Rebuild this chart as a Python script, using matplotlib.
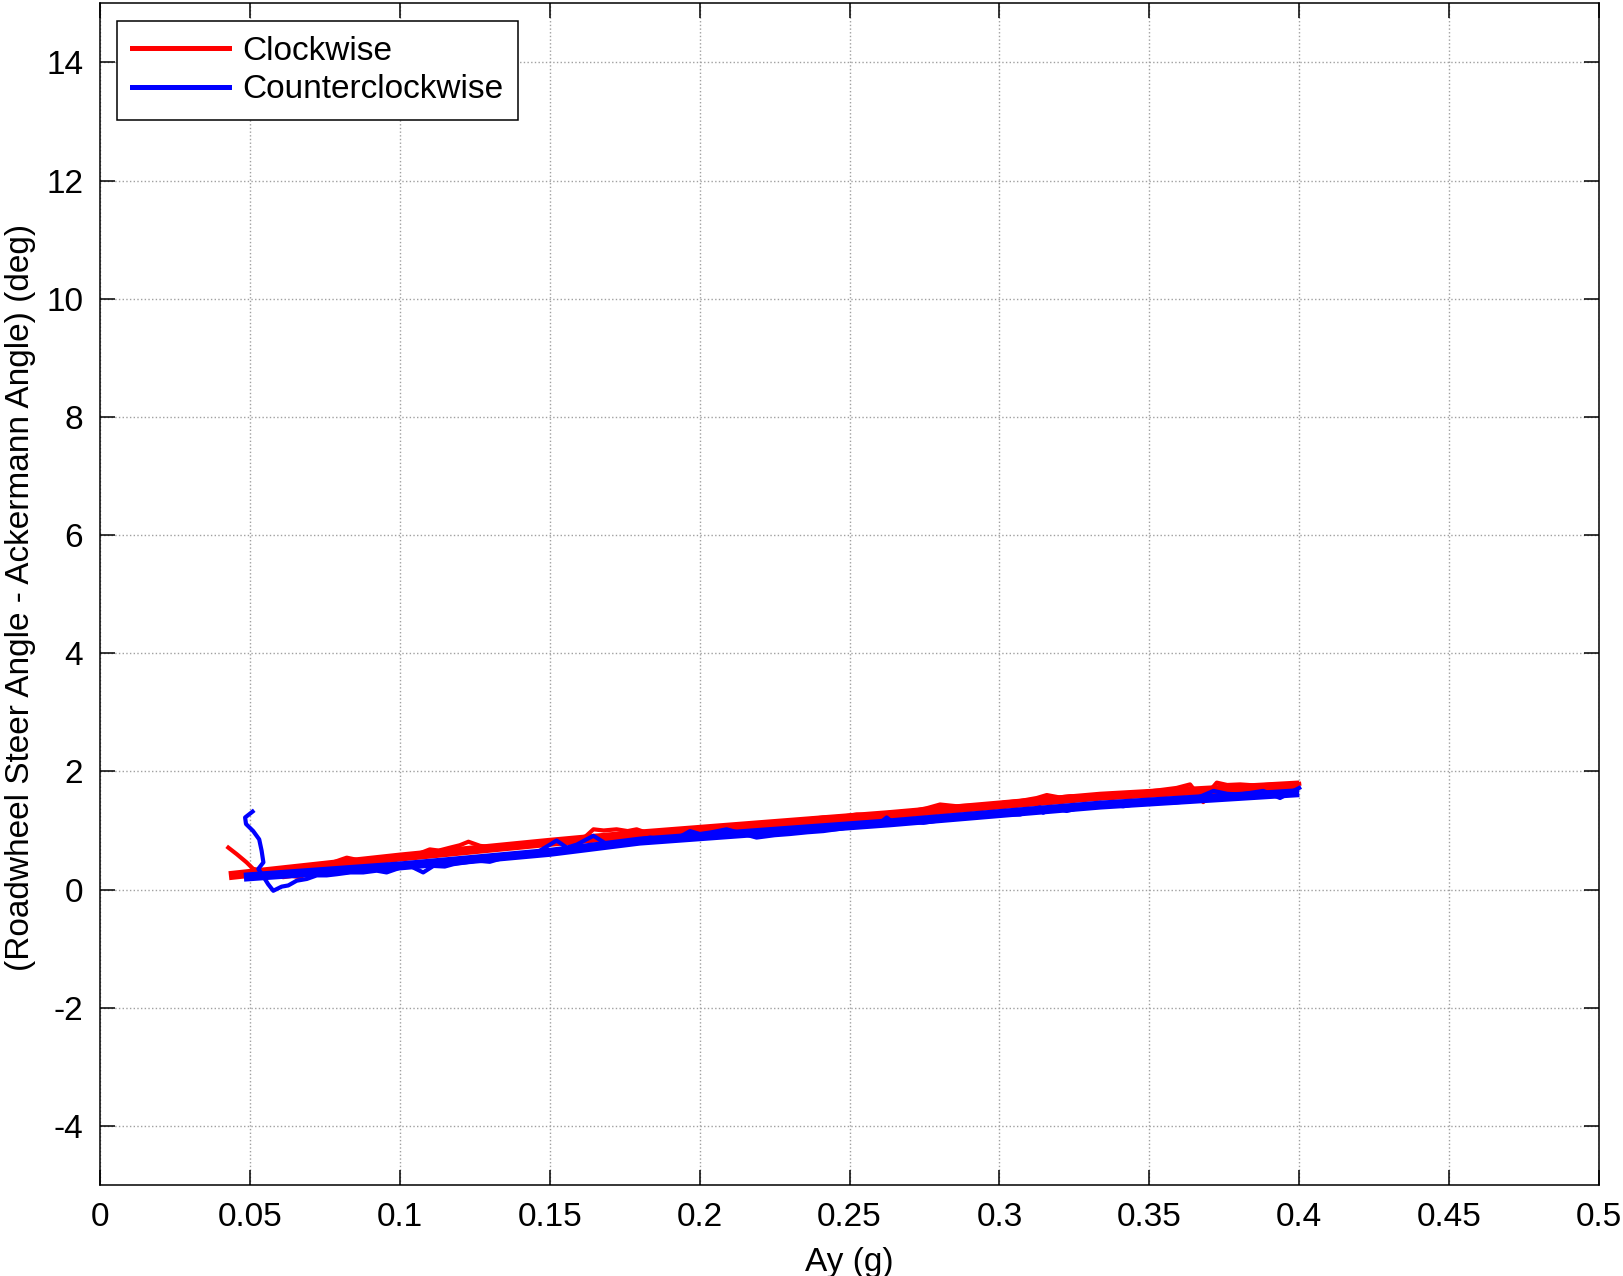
import numpy as np
import matplotlib
matplotlib.use("Agg")
import matplotlib.pyplot as plt
from matplotlib.lines import Line2D

plt.rcParams['font.family'] = ['Liberation Sans', 'DejaVu Sans']
plt.rcParams['axes.unicode_minus'] = False

# thick trend band
cw_band_x = [0.043, 0.100, 0.150, 0.180, 0.2635, 0.3336, 0.400]
cw_band_y = [0.235, 0.55, 0.80, 0.94, 1.27, 1.58, 1.77]
ccw_band_x = [0.048, 0.100, 0.150, 0.180, 0.2635, 0.3336, 0.400]
ccw_band_y = [0.21, 0.40, 0.63, 0.82, 1.13, 1.43, 1.64]

# noisy measured runs
cw_run_x = [0.0428, 0.0456, 0.0489, 0.0511, 0.0545, 0.0575, 0.0611, 0.0640, 0.0667,
            0.0700, 0.0740, 0.0778, 0.0800, 0.0823, 0.0860, 0.0900, 0.0930, 0.0967,
            0.1000, 0.1034, 0.1070, 0.1100, 0.1130, 0.1168, 0.1200, 0.1229, 0.1268,
            0.1300, 0.1334, 0.1370, 0.1400, 0.1446, 0.1480, 0.1512, 0.1550, 0.1590,
            0.1620, 0.1646, 0.1680, 0.1723, 0.1760, 0.1790, 0.1835, 0.1870, 0.1900,
            0.1968, 0.2030, 0.2090, 0.2130, 0.2170, 0.2246, 0.2290, 0.2330, 0.2413,
            0.2470, 0.2524, 0.2580, 0.2635, 0.2713, 0.2760, 0.2802, 0.2858, 0.2900,
            0.2936, 0.2980, 0.3013, 0.3070, 0.3125, 0.3158, 0.3200, 0.3236, 0.3290,
            0.3336, 0.3400, 0.3469, 0.3530, 0.3591, 0.3636, 0.3660, 0.3680, 0.3700,
            0.3725, 0.3760, 0.3803, 0.3860, 0.3914, 0.3960, 0.4000]
cw_run_y = [0.71, 0.60, 0.46, 0.35, 0.32, 0.25, 0.21, 0.23, 0.21,
            0.30, 0.40, 0.46, 0.50, 0.54, 0.50, 0.52, 0.50, 0.54,
            0.53, 0.57, 0.62, 0.68, 0.66, 0.71, 0.75, 0.81, 0.74,
            0.72, 0.71, 0.75, 0.74, 0.77, 0.80, 0.82, 0.80, 0.85,
            0.90, 1.02, 1.00, 1.02, 0.99, 1.02, 0.94, 0.96, 0.97,
            1.02, 1.04, 1.08, 1.06, 1.09, 1.13, 1.12, 1.17, 1.22,
            1.23, 1.27, 1.26, 1.30, 1.33, 1.38, 1.44, 1.41, 1.42,
            1.39, 1.43, 1.47, 1.50, 1.55, 1.60, 1.56, 1.58, 1.57,
            1.61, 1.60, 1.64, 1.68, 1.72, 1.78, 1.62, 1.48, 1.66,
            1.81, 1.77, 1.78, 1.76, 1.78, 1.76, 1.79]
ccw_run_x = [0.0509, 0.0484, 0.0487, 0.0511, 0.0531, 0.0539, 0.0545, 0.0528, 0.0545,
             0.0561, 0.0578, 0.0590, 0.0606, 0.0628, 0.0656, 0.0690, 0.0723, 0.0756,
             0.0790, 0.0834, 0.0878, 0.0923, 0.0956, 0.0990, 0.1023, 0.1050, 0.1078,
             0.1112, 0.1150, 0.1179, 0.1220, 0.1257, 0.1300, 0.1334, 0.1370, 0.1401,
             0.1440, 0.1468, 0.1523, 0.1557, 0.1590, 0.1623, 0.1646, 0.1690, 0.1740,
             0.1779, 0.1835, 0.1870, 0.1913, 0.1968, 0.2001, 0.2040, 0.2090, 0.2140,
             0.2190, 0.2250, 0.2301, 0.2360, 0.2413, 0.2470, 0.2524, 0.2600, 0.2624,
             0.2646, 0.2700, 0.2746, 0.2810, 0.2880, 0.2940, 0.3002, 0.3069, 0.3135,
             0.3146, 0.3180, 0.3224, 0.3280, 0.3336, 0.3413, 0.3470, 0.3525, 0.3580,
             0.3636, 0.3714, 0.3760, 0.3803, 0.3880, 0.3936, 0.4000]
ccw_run_y = [1.32, 1.22, 1.11, 0.99, 0.85, 0.66, 0.46, 0.35, 0.22,
             0.09, -0.02, 0.01, 0.05, 0.07, 0.15, 0.18, 0.24, 0.24,
             0.26, 0.29, 0.29, 0.32, 0.29, 0.35, 0.43, 0.36, 0.29,
             0.40, 0.39, 0.43, 0.46, 0.49, 0.47, 0.52, 0.55, 0.56,
             0.60, 0.66, 0.83, 0.71, 0.76, 0.85, 0.91, 0.77, 0.80,
             0.83, 0.88, 0.85, 0.83, 0.99, 0.94, 0.97, 1.02, 0.95,
             0.88, 0.92, 0.94, 0.97, 0.99, 1.03, 1.08, 1.12, 1.22,
             1.13, 1.15, 1.13, 1.18, 1.22, 1.25, 1.27, 1.27, 1.39,
             1.30, 1.39, 1.33, 1.40, 1.47, 1.41, 1.46, 1.50, 1.47,
             1.50, 1.67, 1.62, 1.61, 1.67, 1.55, 1.72]

xticks = [0, 0.05, 0.1, 0.15, 0.2, 0.25, 0.3, 0.35, 0.4, 0.45, 0.5]
xtick_labels = ['0', '0.05', '0.1', '0.15', '0.2', '0.25', '0.3', '0.35', '0.4', '0.45', '0.5']
yticks = [-4, -2, 0, 2, 4, 6, 8, 10, 12, 14]

W, H = 1623, 1276
fig = plt.figure(figsize=(W / 100, H / 100), dpi=100)
ax = fig.add_axes([100 / W, (H - 1185) / H, 1499 / W, 1181.7 / H])

ax.plot(cw_band_x, cw_band_y, color='#ff0000', lw=6.5, solid_capstyle='butt', zorder=3)
ax.plot(cw_run_x, cw_run_y, color='#ff0000', lw=3, zorder=3)
ax.plot(ccw_band_x, ccw_band_y, color='#0000ff', lw=6.5, solid_capstyle='butt', zorder=4)
ax.plot(ccw_run_x, ccw_run_y, color='#0000ff', lw=3, zorder=4)

ax.set_xlim(0, 0.5)
ax.set_ylim(-5, 15)
ax.set_xticks(xticks)
ax.set_xticklabels(xtick_labels)
ax.set_yticks(yticks)
ax.grid(True, color='#a0a0a0', linestyle=':', linewidth=1.0)
ax.set_axisbelow(True)
ax.tick_params(direction='in', length=11, width=1.1, labelsize=24,
               top=True, right=True, pad=12)
for s in ax.spines.values():
    s.set_linewidth(1.1)

ax.set_xlabel('Ay (g)', fontsize=24, labelpad=10)
ax.set_ylabel('(Roadwheel Steer Angle - Ackermann Angle) (deg)', fontsize=24)
ax.yaxis.set_label_coords(-0.043, 0.497)

handles = [Line2D([], [], color='#ff0000', lw=3.6),
           Line2D([], [], color='#0000ff', lw=3.6)]
leg = ax.legend(handles, ['Clockwise', 'Counterclockwise'], loc='upper left',
                bbox_to_anchor=(0.0113, 0.985), borderaxespad=0, fontsize=24,
                fancybox=False, framealpha=1, edgecolor='black', handlelength=2.9,
                handletextpad=0.4, labelspacing=0.22, borderpad=0.45)
leg.get_frame().set_linewidth(1.1)

fig.savefig('out.png', dpi=100)
